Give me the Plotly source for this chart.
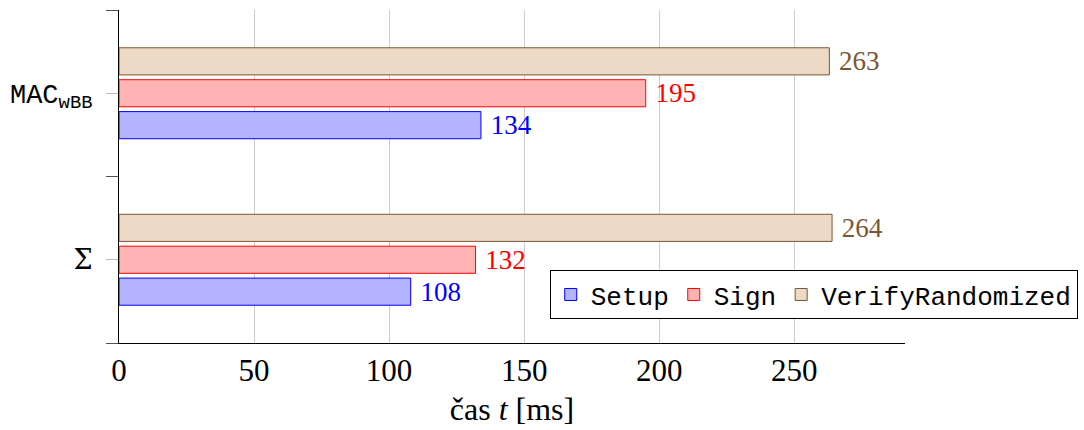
import plotly.graph_objects as go

# Categories (numeric positions on the y axis) and their tick labels
category_pos = [0, 1]
category_labels = [
    "<span style=\"font-family:'DejaVu Serif'\">Σ</span>",
    "<span style=\"font-family:'Liberation Mono'\">MAC<sub>wBB</sub></span>",
]

# Timings in milliseconds, one list per operation
setup_ms = [108, 134]
sign_ms = [132, 195]
verify_ms = [264, 263]

series = [
    ("Setup", setup_ms, "#b3b3ff", "#0000ff", "#0000ff"),
    ("Sign", sign_ms, "#ffb3b3", "#ff0000", "#ff0000"),
    ("VerifyRandomized", verify_ms, "#ecd9c6", "#7b5634", "#7b5634"),
]

SERIF = "'Liberation Serif', 'DejaVu Serif', serif"
MONO = "'Liberation Mono', 'DejaVu Sans Mono', monospace"

fig = go.Figure()
for name, vals, fill, edge, txt in series:
    fig.add_trace(go.Bar(
        name=name,
        x=vals,
        y=category_pos,
        orientation="h",
        marker=dict(color=fill, line=dict(color=edge, width=1)),
        text=vals,
        texttemplate=" %{x}",
        textposition="outside",
        constraintext="none",
        cliponaxis=False,
        textfont=dict(family=SERIF, size=27, color=txt),
        hoverinfo="skip",
    ))

fig.update_layout(
    width=1084,
    height=430,
    margin=dict(l=119, r=179, t=10, b=87, autoexpand=False),
    paper_bgcolor="white",
    plot_bgcolor="white",
    barmode="group",
    bargap=0.425,
    bargroupgap=0.15,
    font=dict(family=SERIF, color="black"),
    showlegend=True,
    legend=dict(
        orientation="h",
        x=0.548, xanchor="left",
        y=0.219, yanchor="top",
        bgcolor="white",
        bordercolor="black",
        borderwidth=1,
        font=dict(family=MONO, size=26, color="black"),
        traceorder="normal",
        itemwidth=30,
    ),
    xaxis=dict(
        range=[0, 291],
        tickvals=[0, 50, 100, 150, 200, 250],
        showgrid=True,
        gridcolor="#cccccc",
        gridwidth=1,
        zeroline=False,
        showline=True,
        linecolor="black",
        linewidth=1,
        ticks="",
        tickfont=dict(family=SERIF, size=31, color="black"),
        title=dict(text="čas <i>t</i> [ms]", font=dict(family=SERIF, size=32, color="black"), standoff=10),
    ),
    yaxis=dict(
        range=[-0.5, 1.5],
        tickvals=category_pos,
        ticktext=category_labels,
        showgrid=False,
        zeroline=False,
        showline=True,
        linecolor="black",
        linewidth=1,
        ticks="outside",
        ticklen=12,
        tickcolor="#bbbbbb",
        tickwidth=1,
        ticklabelstandoff=8,
        tickfont=dict(family=SERIF, size=27, color="black"),
        minor=dict(
            tickvals=[-0.5, 0.5, 1.5],
            ticks="outside",
            ticklen=12,
            tickcolor="#555555",
            tickwidth=1,
        ),
    ),
)

fig.write_html("out.html")
